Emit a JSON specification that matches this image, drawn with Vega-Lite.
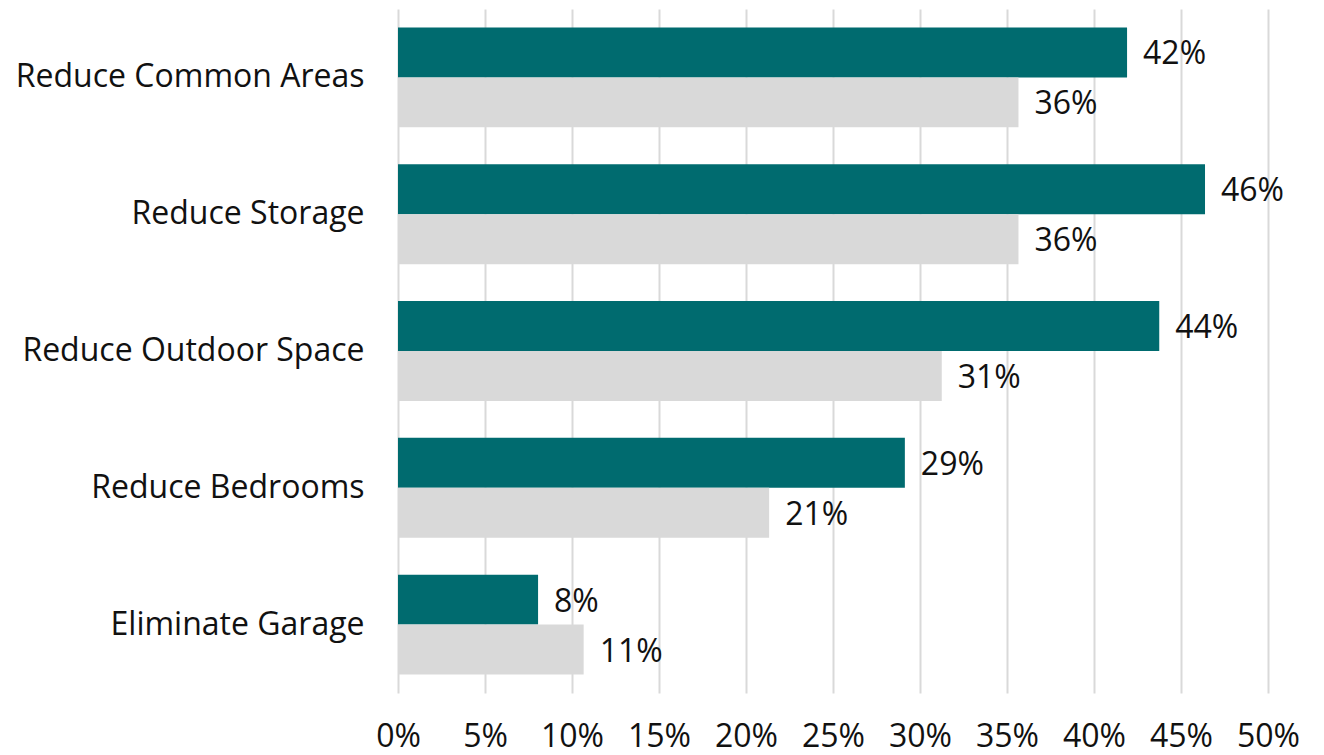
{
  "$schema": "https://vega.github.io/schema/vega-lite/v6.json",
  "width": 870,
  "height": 684,
  "autosize": {"type": "none"},
  "padding": {"left": 398, "top": 9, "right": 56, "bottom": 62},
  "background": "white",
  "config": {
    "font": "Open Sans",
    "view": {"stroke": null}
  },
  "data": {
    "values": [
      {"category": "Reduce Common Areas", "series": "A", "value": 0.419},
      {"category": "Reduce Common Areas", "series": "B", "value": 0.3566},
      {"category": "Reduce Storage", "series": "A", "value": 0.4638},
      {"category": "Reduce Storage", "series": "B", "value": 0.3566},
      {"category": "Reduce Outdoor Space", "series": "A", "value": 0.4375},
      {"category": "Reduce Outdoor Space", "series": "B", "value": 0.3125},
      {"category": "Reduce Bedrooms", "series": "A", "value": 0.2913},
      {"category": "Reduce Bedrooms", "series": "B", "value": 0.2133},
      {"category": "Eliminate Garage", "series": "A", "value": 0.0805},
      {"category": "Eliminate Garage", "series": "B", "value": 0.1067}
    ]
  },
  "encoding": {
    "y": {
      "field": "category",
      "type": "nominal",
      "sort": ["Reduce Common Areas", "Reduce Storage", "Reduce Outdoor Space", "Reduce Bedrooms", "Eliminate Garage"],
      "scale": {"paddingInner": 0.27, "paddingOuter": 0.135},
      "axis": {
        "title": null,
        "ticks": false,
        "domain": false,
        "labelFontSize": 32,
        "labelColor": "#111111",
        "labelPadding": 34,
        "labelLimit": 500
      }
    },
    "yOffset": {
      "field": "series",
      "type": "nominal",
      "sort": ["A", "B"],
      "scale": {"paddingInner": 0, "paddingOuter": 0}
    },
    "x": {
      "field": "value",
      "type": "quantitative",
      "scale": {"domain": [0, 0.5]},
      "axis": {
        "title": null,
        "format": ".0%",
        "values": [0, 0.05, 0.1, 0.15, 0.2, 0.25, 0.3, 0.35, 0.4, 0.45, 0.5],
        "ticks": false,
        "domain": false,
        "grid": true,
        "gridColor": "#d9d9d9",
        "gridWidth": 2,
        "labelFontSize": 32,
        "labelColor": "#111111",
        "labelPadding": 28,
        "labelFlush": false
      }
    }
  },
  "layer": [
    {
      "mark": {"type": "bar"},
      "encoding": {
        "color": {
          "field": "series",
          "type": "nominal",
          "scale": {"domain": ["A", "B"], "range": ["#006b6f", "#d9d9d9"]},
          "legend": null
        }
      }
    },
    {
      "mark": {"type": "text", "align": "left", "dx": 16, "dy": 2, "fontSize": 32, "color": "#111111"},
      "encoding": {
        "text": {"field": "value", "type": "quantitative", "format": ".0%"}
      }
    }
  ]
}
